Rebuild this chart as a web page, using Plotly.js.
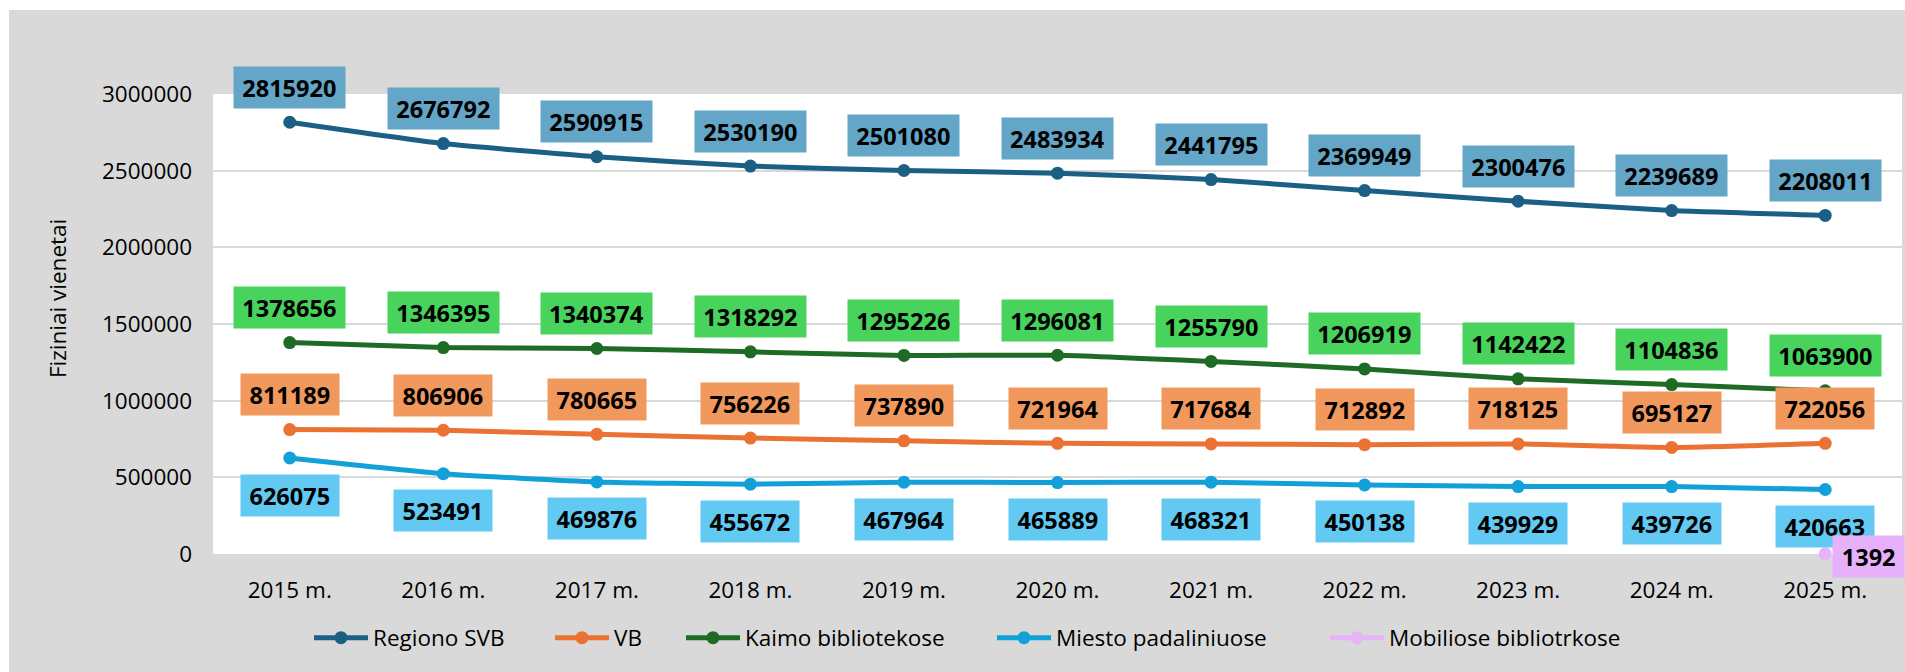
<!DOCTYPE html>
<html>
<head>
<meta charset="utf-8">
<script src="https://cdn.plot.ly/plotly-3.0.1.min.js"></script>
<style>
html,body{margin:0;padding:0;background:#fff;}
#chart{width:1905px;height:672px;}
</style>
</head>
<body>
<div id="chart"></div>
<script>
// ---- data ----
const years = ["2015 m.","2016 m.","2017 m.","2018 m.","2019 m.","2020 m.","2021 m.","2022 m.","2023 m.","2024 m.","2025 m."];
const regionoSVB = [2815920,2676792,2590915,2530190,2501080,2483934,2441795,2369949,2300476,2239689,2208011];
const vb = [811189,806906,780665,756226,737890,721964,717684,712892,718125,695127,722056];
const kaimo = [1378656,1346395,1340374,1318292,1295226,1296081,1255790,1206919,1142422,1104836,1063900];
const miesto = [626075,523491,469876,455672,467964,465889,468321,450138,439929,439726,420663];
const mobiliose = [null,null,null,null,null,null,null,null,null,null,1392];
const seriesNames = ["Regiono SVB","VB","Kaimo bibliotekose","Miesto padaliniuose","Mobiliose bibliotrkose"];
const yTitle = "Fiziniai vienetai";

// ---- styling ----
const W = 1905, H = 672;
const M = {l:213, r:3, t:94, b:118};
const pw = W - M.l - M.r, ph = H - M.t - M.b;
const FONT = "'Open Sans', 'Noto Sans', sans-serif";
const lineColors = ["#1b5f84","#eb7233","#1e6b26","#12a0d9","#e8b4f8"];
const boxColors  = ["#63a6c7","#f1985c","#47d35c","#62c9f2","#e7b0fb"];
const allSeries = [regionoSVB, vb, kaimo, miesto, mobiliose];
const legendIds = ['legend','legend2','legend3','legend4','legend5'];
const legendLeft = [314, 555, 686, 997, 1330];

const px = v => (v-M.l)/pw;
const py = v => (H-M.b-v)/ph;

const traces = allSeries.map((s,i)=>({
  type:'scatter', mode:'lines+markers', name:seriesNames[i],
  x:years, y:s, legend:legendIds[i],
  line:{color:lineColors[i], width:5, shape:'spline', smoothing:0.5},
  marker:{color:lineColors[i], size:13},
  cliponaxis:false,
  hoverinfo:'skip'
}));

const labelPos = [
  {xs:0, ys:35},
  {xs:0, ys:35},
  {xs:0, ys:35},
  {xs:0, ys:-37},
  {xs:43, ys:-3}
];
const annotations = [];
allSeries.forEach((s,i)=>{
  s.forEach((v,j)=>{
    if(v===null) return;
    const txt = String(v);
    annotations.push({
      x:years[j], y:v, xref:'x', yref:'y',
      text:'<b>'+txt+'</b>', showarrow:false,
      xshift:labelPos[i].xs, yshift:labelPos[i].ys,
      bgcolor:boxColors[i], borderpad:6,
      width: txt.length*13.1+7, height:29,
      font:{family:FONT, size:23.5, color:'#000'}
    });
  });
});
annotations.push({
  xref:'paper', yref:'paper', xanchor:'center', yanchor:'middle',
  x:px(57), y:py(299),
  text:yTitle, textangle:-90, showarrow:false,
  font:{family:FONT, size:22.5, color:'#000'}
});

const shapes = [
  {type:'rect', xref:'paper', yref:'paper', x0:px(-5), x1:px(W+5), y0:py(10), y1:py(-5), fillcolor:'#ffffff', line:{width:0}, layer:'below'},
  {type:'rect', xref:'paper', yref:'paper', x0:px(-5), x1:px(9), y0:py(H+5), y1:py(-5), fillcolor:'#ffffff', line:{width:0}, layer:'below'}
];

const layout = {
  width:W, height:H,
  margin:M,
  paper_bgcolor:'#d9d9d9',
  plot_bgcolor:'#ffffff',
  font:{family:FONT, size:22.5, color:'#000'},
  showlegend:true,
  xaxis:{type:'category', range:[-0.5,10.5], showgrid:false, zeroline:false, showline:false,
         ticks:'', ticklabelstandoff:20, tickfont:{family:FONT, size:22.5, color:'#000'}, fixedrange:true},
  yaxis:{range:[0,3000000], dtick:500000, tickformat:'d', showgrid:true, gridcolor:'#d9d9d9', gridwidth:2,
         zeroline:false, showline:false, ticks:'', ticklabelstandoff:20,
         tickfont:{family:FONT, size:22.5, color:'#000'}, fixedrange:true},
  annotations:annotations,
  shapes:shapes
};
legendIds.forEach((id,i)=>{
  layout[id] = {orientation:'h', x:px(legendLeft[i]-5), xanchor:'left', y:py(638), yanchor:'middle',
    itemwidth:54, font:{family:FONT, size:22.5, color:'#000'}, bgcolor:'rgba(0,0,0,0)', borderwidth:0};
});

Plotly.newPlot('chart', traces, layout, {displayModeBar:false, staticPlot:true});
</script>
</body>
</html>
